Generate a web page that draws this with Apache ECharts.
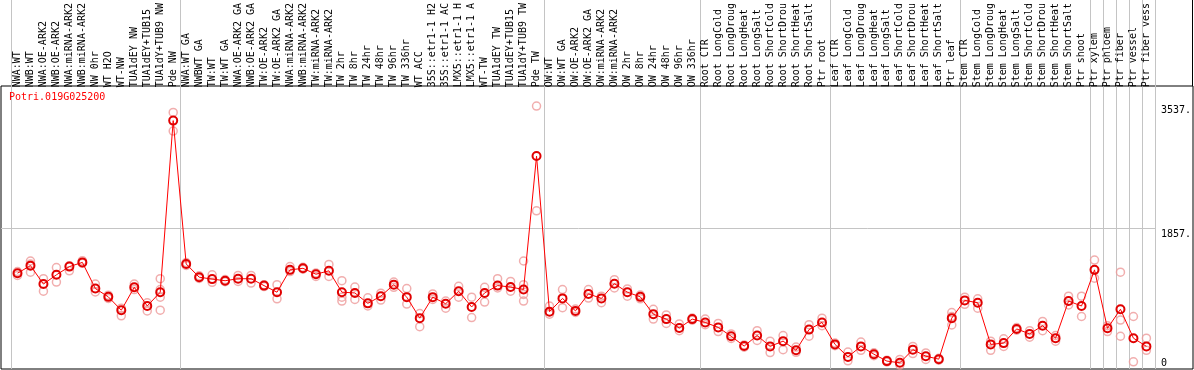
<!DOCTYPE html>
<html>
<head>
<meta charset="utf-8">
<script src="https://cdn.jsdelivr.net/npm/echarts@6/dist/echarts.min.js"></script>
<style>
  html, body { margin: 0; padding: 0; background: #fff; }
  #chart { width: 1194px; height: 370px; }
</style>
</head>
<body>
<div id="chart"></div>
<script>
// sample names, as they show in the header
var categories = [
  'NWA:WT','NWB:WT','NWA:OE-ARK2','NWB:OE-ARK2','NWA:miRNA-ARK2','NWB:miRNA-ARK2','NW 0hr','WT H2O','WT-NW','TUA1dEY NW','TUA1dEY+TUB15','TUA1dY+TUB9 NW','Pde NW',
  'NWA:WT GA','NWBWT GA','TW:WT','TW:WT GA','NWA:OE-ARK2 GA','NWB:OE-ARK2 GA','TW:OE-ARK2','TW:OE-ARK2 GA','NWA:miRNA-ARK2','NWB:miRNA-ARK2','TW:miRNA-ARK2','TW:miRNA-ARK2','TW 2hr','TW 8hr','TW 24hr','TW 48hr','TW 96hr','TW 336hr','WT ACC','35S::etr1-1 H2','35S::etr1-1 AC','LMX5::etr1-1 H','LMX5::etr1-1 A','WT-TW','TUA1dEY TW','TUA1dEY+TUB15','TUA1dY+TUB9 TW','Pde TW',
  'OW:WT','OW:WT GA','OW:OE-ARK2','OW:OE-ARK2 GA','OW:miRNA-ARK2','OW:miRNA-ARK2','OW 2hr','OW 8hr','OW 24hr','OW 48hr','OW 96hr','OW 336hr',
  'Root CTR','Root LongCold','Root LongDroug','Root LongHeat','Root LongSalt','Root ShortCold','Root ShortDrou','Root ShortHeat','Root ShortSalt','Ptr root',
  'Leaf CTR','Leaf LongCold','Leaf LongDroug','Leaf LongHeat','Leaf LongSalt','Leaf ShortCold','Leaf ShortDrou','Leaf ShortHeat','Leaf ShortSalt','Ptr leaf',
  'Stem CTR','Stem LongCold','Stem LongDroug','Stem LongHeat','Stem LongSalt','Stem ShortCold','Stem ShortDrou','Stem ShortHeat','Stem ShortSalt','Ptr shoot',
  'Ptr xylem','Ptr phloem','Ptr fiber','Ptr vessel','Ptr fiber vess'
];

// mean expression per sample
var means = [
  1276,1378,1129,1254,1365,1422,1068,956,775,1085,832,1019,3340,
  1401,1222,1196,1174,1201,1201,1108,1019,1321,1342,1262,1308,1019,1009,868,965,1121,952,668,952,863,1032,819,1009,1108,1089,1055,2860,
  756,935,766,996,935,1134,1019,956,722,655,535,655,
  610,543,423,290,433,286,357,233,513,610,
  313,144,286,180,87,64,242,153,113,668,
  908,876,313,330,522,455,566,397,899,832,
  1321,530,788,397,286
];

// single replicates per sample
var replicates = [
  [1298,1245],[1441,1289,1400],[1201,1032],[1352,1156],[1378,1308],[1445,1409],[1129,1023],[979,935],[802,699],[1129,1055],[876,766],[1201,1055,952,775],[3451,3198],
  [1420,1380],[1240,1205],[1254,1152],[1190,1160],[1245,1165],[1245,1142],[1120,1095],[1121,929],[1365,1298],[1355,1330],[1280,1232],[1395,1232],[1174,952,899],[1089,921],[943,832],[1005,912],[1156,1085],[1068,859],[730,553],[996,921],[899,802],[1099,952],[952,676],[1085,885],[1201,1076],[1165,1032],[1441,1121,988,899],[3537,2120],
  [832,722],[1055,810],[790,745],[1055,939],[965,876],[1188,1076],[1063,965],[980,930],[788,655],[712,597],[589,499],[670,640],
  [655,579],[597,486],[455,393],[305,275],[499,366],[357,202],[433,242],[277,206],[579,423],[668,566],
  [330,295],[210,91],[344,233],[200,160],[100,75],[109,33],[286,189],[197,109],[125,100],[743,575,690],
  [952,855],[929,802],[357,233],[389,286],[540,505],[499,410],[623,499],[433,357],[965,846],[965,690],
  [1454,1209],[566,486],[1289,642,423],[690,77],[397,233]
];

// where the tissue groups start (category index)
var groupEdges = [0, 13, 41, 53, 63, 73, 83, 84, 85, 86, 87, 88];

var yTicks = [0, 1857, 3537];
var yTickLabels = ['0', '1857.', '3537.'];
var gridValues = [1857];

var geneName = 'Potri.019G025200';

var FONT = '"DejaVu Sans Mono", monospace';

var repData = [];
replicates.forEach(function (list, i) {
  list.forEach(function (v) { repData.push([i, v]); });
});

var yMin = -20, yMax = 3750;

var myChart = echarts.init(document.getElementById('chart'));

var option = {
  animation: false,
  backgroundColor: '#fff',
  title: {
    text: geneName,
    left: 9,
    top: 92,
    padding: 0,
    textStyle: { fontFamily: FONT, fontSize: 10, fontWeight: 'normal', color: '#ff0000' }
  },
  grid: [
    { left: 11, right: 39, top: 86, bottom: 1 },                  // data
    { left: 1, right: 38, top: 86, bottom: 1 },                   // horizontal gridline
    { left: 1, right: 1, top: 86, bottom: 1, show: true, borderColor: '#000', borderWidth: 1, backgroundColor: 'transparent' }, // frame
    { left: 11, right: 39, top: 0, bottom: 1 }                    // group separators
  ],
  xAxis: [
    {
      type: 'category', gridIndex: 0, position: 'top', data: categories,
      boundaryGap: true,
      axisLine: { show: false }, axisTick: { show: false }, splitLine: { show: false },
      axisLabel: { interval: 0, rotate: 90, margin: 3, fontFamily: FONT, fontSize: 10, color: '#000' }
    },
    { type: 'value', gridIndex: 1, min: 0, max: 1, axisLine: { show: false }, axisTick: { show: false }, axisLabel: { show: false }, splitLine: { show: false } },
    { type: 'value', gridIndex: 2, min: 0, max: 1, show: false },
    {
      type: 'value', gridIndex: 3, min: 0, max: 88,
      axisLine: { show: false }, axisLabel: { show: false },
      axisTick: { show: false, customValues: groupEdges },
      splitLine: { show: true, lineStyle: { color: '#c4c4c4', width: 1 } }
    }
  ],
  yAxis: [
    {
      type: 'value', gridIndex: 0, position: 'right', min: yMin, max: yMax,
      axisLine: { show: false }, axisTick: { show: false, customValues: yTicks }, splitLine: { show: false },
      axisLabel: {
        customValues: yTicks, margin: 8, align: 'left', fontFamily: FONT, fontSize: 10, color: '#000',
        formatter: function (v) {
          var k = yTicks.indexOf(v);
          var s = k >= 0 ? yTickLabels[k] : '';
          return v === 0 ? '{b|' + s + '}' : '{t|' + s + '}';
        },
        rich: {
          t: { fontFamily: FONT, fontSize: 10, padding: [9, 0, 0, 0] },
          b: { fontFamily: FONT, fontSize: 10, padding: [0, 0, 9, 0] }
        }
      }
    },
    {
      type: 'value', gridIndex: 1, min: yMin, max: yMax,
      axisLine: { show: false }, axisLabel: { show: false },
      axisTick: { show: false, customValues: gridValues },
      splitLine: { show: true, lineStyle: { color: '#c4c4c4', width: 1 } }
    },
    { type: 'value', gridIndex: 2, min: 0, max: 1, show: false },
    { type: 'value', gridIndex: 3, min: 0, max: 1, show: false }
  ],
  graphic: [
    { type: 'line', shape: { x1: 1192.5, y1: 0, x2: 1192.5, y2: 86 }, style: { stroke: '#000', lineWidth: 1 } }
  ],
  series: [
    {
      name: 'replicates',
      type: 'scatter',
      xAxisIndex: 0, yAxisIndex: 0,
      data: repData,
      symbol: 'circle',
      symbolSize: 8,
      itemStyle: { color: 'rgba(255,255,255,0)', borderColor: '#ee9a9a', borderWidth: 1.5 },
      z: 2
    },
    {
      name: 'mean',
      type: 'line',
      xAxisIndex: 0, yAxisIndex: 0,
      data: means,
      symbol: 'circle',
      symbolSize: 8,
      showAllSymbol: true,
      lineStyle: { color: '#ff0000', width: 1 },
      itemStyle: { color: 'rgba(255,255,255,0)', borderColor: '#e00000', borderWidth: 2 },
      z: 3
    }
  ]
};

myChart.setOption(option);
</script>
</body>
</html>
